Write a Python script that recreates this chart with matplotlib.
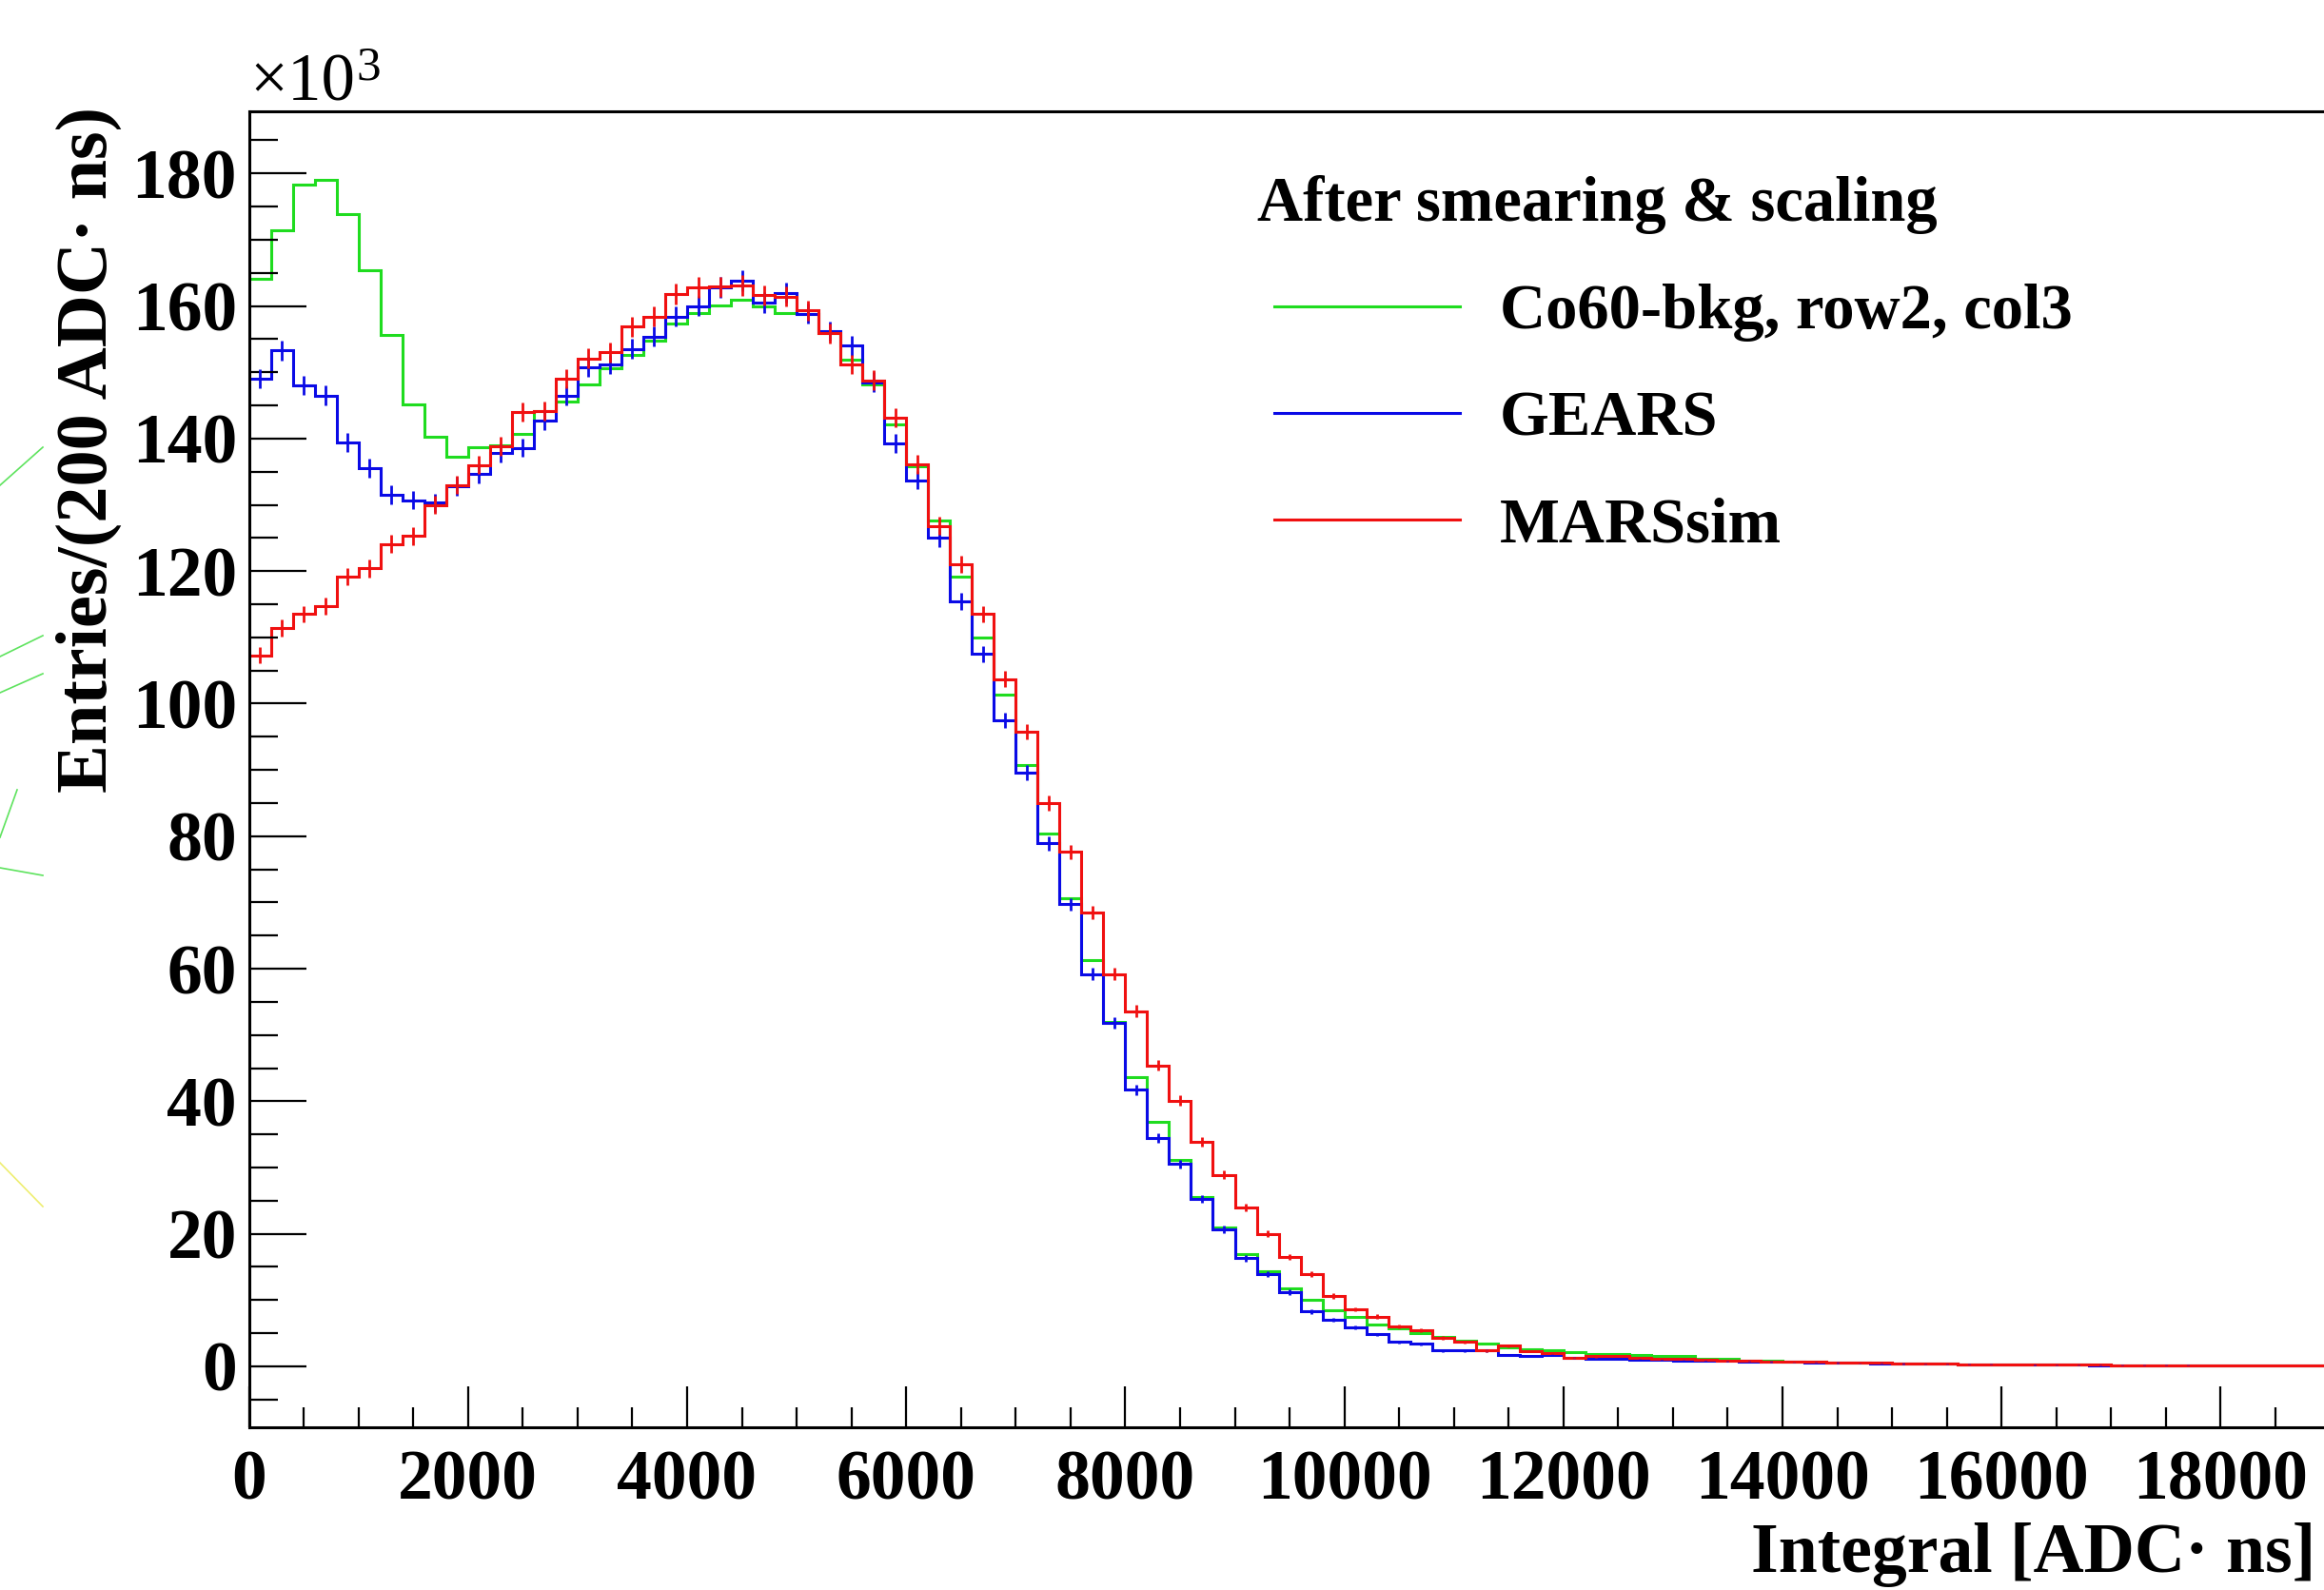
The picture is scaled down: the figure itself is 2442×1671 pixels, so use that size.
import numpy as np
import matplotlib
matplotlib.use("Agg")
from matplotlib import pyplot as plt
from matplotlib.lines import Line2D

plt.rcParams['font.family'] = ['Liberation Serif', 'DejaVu Serif']

# histogram contents in units of 10^3 entries per 200 ADC*ns bin
bin_width = 200
n_bins = 95

co60_bkg = [
    164.1, 171.4, 178.3, 179.1, 173.9, 165.4, 155.7, 145.2, 140.2, 137.3,
    138.7, 139.0, 140.7, 144.2, 145.6, 148.2, 150.6, 152.6, 154.7, 157.3,
    159.0, 160.1, 160.9, 160.0, 159.0, 158.8, 155.9, 151.9, 148.2, 142.2,
    135.8, 127.6, 119.2, 110.0, 101.3, 90.8, 80.4, 70.6, 61.3, 52.0,
    43.6, 36.9, 31.2, 25.6, 21.0, 16.9, 14.4, 11.7, 10.1, 8.4,
    7.5, 6.3, 5.7, 5.0, 4.4, 3.9, 3.4, 2.9, 2.6, 2.5,
    2.2, 1.9, 1.8, 1.7, 1.6,
    1.5, 1.2, 1.1, 0.9, 0.8, 0.7, 0.65, 0.6, 0.55, 0.5,
    0.45, 0.4, 0.37, 0.34, 0.31, 0.29, 0.27, 0.25, 0.23, 0.21,
    0.2, 0.19, 0.18, 0.17, 0.16, 0.15, 0.14, 0.13, 0.12, 0.12]

gears = [
    149.0, 153.3, 148.0, 146.5, 139.4, 135.5, 131.5, 130.7, 130.3, 132.8,
    134.6, 137.8, 138.6, 142.7, 146.4, 150.8, 151.2, 153.5, 155.4, 158.4,
    160.0, 162.8, 163.8, 160.5, 162.0, 158.8, 156.2, 154.0, 148.5, 139.3,
    133.7, 125.0, 115.4, 107.5, 97.5, 89.6, 78.9, 69.7, 59.2, 51.8,
    41.7, 34.5, 30.5, 25.3, 20.7, 16.3, 13.9, 11.2, 8.3, 7.0,
    5.9, 4.8, 3.7, 3.4, 2.4, 2.4, 2.4, 1.7, 1.6, 1.7,
    1.3, 1.2, 1.1, 1.0, 0.95,
    0.9, 0.85, 0.8, 0.75, 0.7, 0.65, 0.6, 0.55, 0.5, 0.45,
    0.42, 0.38, 0.35, 0.32, 0.3, 0.28, 0.26, 0.24, 0.22, 0.2,
    0.19, 0.18, 0.17, 0.16, 0.15, 0.14, 0.13, 0.12, 0.12, 0.11]

marssim = [
    107.3, 111.4, 113.5, 114.7, 119.2, 120.4, 124.1, 125.3, 130.0, 133.0,
    136.0, 138.8, 144.0, 144.2, 149.0, 152.1, 153.0, 156.9, 158.4, 161.8,
    162.8, 162.9, 163.1, 161.6, 161.4, 159.3, 155.9, 151.2, 148.8, 143.2,
    136.1, 126.8, 121.0, 113.5, 103.7, 95.8, 85.0, 77.6, 68.5, 59.2,
    53.6, 45.4, 40.1, 33.9, 28.9, 24.0, 20.0, 16.5, 13.9, 10.6,
    8.6, 7.5, 6.0, 5.4, 4.3, 3.7, 2.4, 3.1, 2.3, 2.0,
    1.3, 1.5, 1.6, 1.3, 1.1,
    1.1, 1.0, 0.9, 0.8, 0.75, 0.7, 0.65, 0.6, 0.55, 0.5,
    0.45, 0.4, 0.37, 0.34, 0.32, 0.3, 0.28, 0.26, 0.24, 0.22,
    0.2, 0.19, 0.18, 0.17, 0.16, 0.15, 0.14, 0.13, 0.12, 0.12]

legend_labels = ["Co60-bkg, row2, col3", "GEARS", "MARSsim"]
colors = ['#1fdc1f', '#0a0ae6', '#f01010']
with_errors = [False, True, True]
err_scale = 0.12  # error ~ sqrt(content), in 10^3 units

x_ticks = list(range(0, 19000, 2000))
y_ticks = list(range(0, 181, 20))

W, H = 2442, 1671
fig = plt.figure(figsize=(W / 100, H / 100), dpi=100)
ax_left, ax_bottom, ax_top = 261.6 / W, (H - 1500) / H, (H - 116.8) / H
ax = fig.add_axes([ax_left, ax_bottom, 1 - ax_left, ax_top - ax_bottom])

edges = np.arange(n_bins + 1) * bin_width
centers = edges[:-1] + bin_width / 2
handles = []
for values, color, err in zip([co60_bkg, gears, marssim], colors, with_errors):
    v = np.array(values)
    ax.stairs(v, edges, baseline=None, color=color, linewidth=2.2)
    if err:
        ax.errorbar(centers, v, yerr=err_scale * np.sqrt(v), fmt='none', ecolor=color,
                    elinewidth=2.0, capsize=0)
    handles.append(Line2D([], [], color=color, linewidth=2.2))

ax.set_xlim(0, (W - 261.6) / 0.1151)
ax.set_ylim(-9.2, 189.4)

ax.set_xticks(x_ticks)
ax.set_xticks(np.arange(0, 19000, 500), minor=True)
ax.set_yticks(y_ticks)
ax.set_yticks(np.arange(-5, 190, 5), minor=True)
tick_font = dict(fontsize=53, fontweight='bold')
ax.set_xticklabels([str(t) for t in x_ticks], **tick_font)
ax.set_yticklabels([str(t) for t in y_ticks], **tick_font)
ax.tick_params(axis='both', which='both', direction='in', width=1.6, colors='black')
ax.tick_params(axis='y', which='major', length=43, pad=9)
ax.tick_params(axis='y', which='minor', length=21.5)
ax.tick_params(axis='x', which='major', length=31, pad=17)
ax.tick_params(axis='x', which='minor', length=15)
ax.tick_params(top=False, right=False, which='both')
ax.spines['right'].set_visible(False)
for s in ['left', 'bottom', 'top']:
    ax.spines[s].set_linewidth(2.2)

fig.text(2433 / W, 1 - 1652 / H, "Integral [ADC\u00b7 ns]", ha='right', va='baseline',
         fontsize=53, fontweight='bold')
fig.text(112 / W, 1 - 112 / H, "Entries/(200 ADC\u00b7 ns)", rotation=90, rotation_mode='anchor',
         ha='right', va='baseline', fontsize=55, fontweight='bold')
fig.text(262 / W, 1 - 106 / H, "\u00d710", ha='left', va='baseline', fontsize=51)
fig.text(374 / W, 1 - 84 / H, "3", ha='left', va='baseline', fontsize=37)

fig.text(1321 / W, 1 - 232 / H, "After smearing & scaling", ha='left', va='baseline',
         fontsize=48, fontweight='bold')
ax.legend(handles, legend_labels, loc='upper left', bbox_to_anchor=(1339 / W, 1 - 298 / H),
          bbox_transform=fig.transFigure, frameon=False, prop=dict(size=48, weight='bold'),
          handlelength=2.92, handletextpad=0.63, labelspacing=0.77, borderpad=0, borderaxespad=0)

# edge of the neighbouring figure that was cut into the left margin
stray = [((0, 510), (45, 470), '#5ee35e'), ((0, 690), (45, 668), '#5ee35e'),
         ((0, 728), (45, 708), '#5ee35e'), ((0, 880), (18, 830), '#5ee35e'),
         ((0, 912), (45, 920), '#5ee35e'), ((0, 1222), (45, 1268), '#eeee70')]
for (x0, y0), (x1, y1), c in stray:
    fig.add_artist(Line2D([x0 / W, x1 / W], [1 - y0 / H, 1 - y1 / H], color=c,
                          linewidth=1.2, transform=fig.transFigure))

fig.savefig("out.png", dpi=100)
